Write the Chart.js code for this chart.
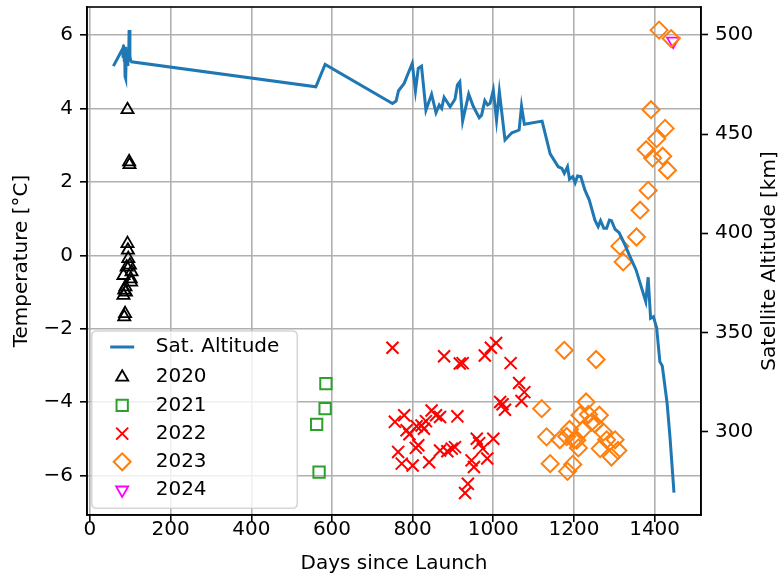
<!DOCTYPE html>
<html><head><meta charset="utf-8">
<script src="https://cdn.jsdelivr.net/npm/chart.js@4/dist/chart.umd.min.js"></script>
<style>html,body{margin:0;padding:0;background:#fff}canvas{display:block}</style>
</head><body>
<canvas id="c" width="782" height="579"></canvas>
<script>
// ---------- data ----------
const altDays = [58,81,82,83,85,86,87,88,89,90,92,94,96,97,99,101,103,560,583,750,759,765,779,789,799,807,814,822,833,847,858,866,872,878,893,905,911,917,924,939,950,965,971,979,986,992,1000,1008,1015,1029,1046,1064,1070,1077,1121,1141,1161,1170,1176,1184,1189,1197,1203,1209,1217,1227,1238,1252,1260,1266,1274,1281,1288,1293,1302,1312,1324,1339,1354,1368,1378,1384,1390,1397,1405,1413,1419,1431,1438,1448];
const altKm = [484.2,493,489,495,487,492,479,494,478,490,485,493,488,502.4,489,487,486.4,473.8,485.1,465.4,466.6,471.8,475.5,480.6,485.6,471.8,483.1,484.2,462.0,470.0,460.7,464.6,462.9,468.5,463.7,467.5,474.7,476.3,456.5,470.1,464.1,458.2,459.5,466.8,464.6,465.4,472.1,457.0,471.3,447.0,450.6,452.0,464.1,454.9,456.5,440.0,433.5,432.7,430.2,433.5,427.2,428.5,425.4,428.8,428.5,421.8,416.7,406.6,403.3,406.3,402.5,402.5,406.6,406.3,402.0,400.3,395.2,388.2,381.5,372.2,365.5,377.8,357.1,357.9,352.4,335.3,333.1,314.3,297.5,269.3];

const days2020 = [93,97,98,93,94,95,99,91,103,83,101,102,88,85,89,83,87,85];
const temp2020 = [3.97,2.55,2.47,0.32,0.14,-0.09,-0.27,-0.32,-0.45,-0.55,-0.64,-0.73,-0.86,-0.95,-1.0,-1.09,-1.59,-1.68];

const days2021 = [585,583,562,568];
const temp2021 = [-3.50,-4.18,-4.61,-5.91];

const days2022 = [750,878,917,924,979,994,1007,1043,1064,1077,1070,1017,1023,1029,756,779,785,792,814,808,810,822,828,833,847,858,868,911,764,773,800,841,868,886,897,905,959,965,974,1000,946,952,985,937,930];
const temp2022 = [-2.52,-2.75,-2.95,-2.94,-2.73,-2.52,-2.39,-2.94,-3.48,-3.73,-3.97,-4.0,-4.06,-4.21,-4.54,-4.36,-4.77,-4.88,-5.18,-5.25,-4.66,-4.64,-4.73,-4.52,-4.23,-4.36,-4.41,-4.39,-5.36,-5.68,-5.73,-5.64,-5.32,-5.34,-5.27,-5.23,-5.0,-5.12,-5.27,-5.0,-5.59,-5.77,-5.54,-6.23,-6.48];

const days2023 = [1176,1255,1120,1230,1215,1236,1263,1244,1223,1189,1132,1165,1182,1200,1211,1273,1281,1302,1265,1309,1293,1141,1197,1184,1252,1207,1411,1441,1391,1426,1405,1379,1395,1420,1432,1384,1364,1355,1314,1322];
const temp2023 = [-2.59,-2.84,-4.18,-4.0,-4.36,-4.34,-4.36,-4.55,-4.75,-4.75,-4.95,-5.03,-4.94,-5.04,-5.25,-4.82,-5.03,-5.03,-5.27,-5.32,-5.5,-5.68,-5.7,-5.89,-4.6,-5.04,6.14,5.91,3.97,3.46,3.18,2.88,2.65,2.7,2.32,1.77,1.23,0.5,0.25,-0.18];

const days2024 = [1446];
const temp2024 = [5.84];

const xTicks = [0,200,400,600,800,1000,1200,1400];
const tempTicks = [-6,-4,-2,0,2,4,6];
const altTicks = [300,350,400,450,500];

// ---------- chart ----------
const F = "'DejaVu Sans', 'Liberation Sans', sans-serif";
const pts = (xs, ys) => xs.map((x, i) => ({x, y: ys[i]}));

function scatterSet(label, xs, ys, style, color, r, rot, bw) {
  return {
    label, data: pts(xs, ys), yAxisID: 'y', order: 1,
    pointStyle: style, pointRadius: r, pointHoverRadius: r, pointRotation: rot,
    borderColor: color, backgroundColor: 'rgba(0,0,0,0)', pointBorderWidth: bw, showLine: false
  };
}

const datasets = [
  {label: 'Sat. Altitude', data: pts(altDays, altKm), yAxisID: 'yR', order: 0, showLine: true,
   borderColor: '#1f77b4', backgroundColor: '#1f77b4', borderWidth: 3, pointRadius: 0, pointHoverRadius: 0, tension: 0, fill: false},
  scatterSet('2020', days2020, temp2020, 'triangle', '#000000', 7, 0, 1.8),
  scatterSet('2021', days2021, temp2021, 'rect', '#2ca02c', 8, 0, 2),
  scatterSet('2022', days2022, temp2022, 'crossRot', '#ff0000', 8.5, 0, 2),
  scatterSet('2023', days2023, temp2023, 'rectRot', '#ff7f0e', 8.5, 0, 2),
  scatterSet('2024', days2024, temp2024, 'triangle', '#ff00ff', 7, 180, 1.8)
];

function marker(ctx, style, x, y, r, rotDeg) {
  const rad0 = rotDeg * Math.PI / 180;
  ctx.beginPath();
  if (style === 'triangle') {
    let rad = rad0;
    ctx.moveTo(x + Math.sin(rad) * r, y - Math.cos(rad) * r);
    rad += 2 * Math.PI / 3;
    ctx.lineTo(x + Math.sin(rad) * r, y - Math.cos(rad) * r);
    rad += 2 * Math.PI / 3;
    ctx.lineTo(x + Math.sin(rad) * r, y - Math.cos(rad) * r);
    ctx.closePath();
  } else if (style === 'rect') {
    const s = Math.SQRT1_2 * r;
    ctx.rect(x - s, y - s, 2 * s, 2 * s);
  } else if (style === 'rectRot') {
    ctx.moveTo(x - r, y); ctx.lineTo(x, y - r); ctx.lineTo(x + r, y); ctx.lineTo(x, y + r); ctx.closePath();
  } else if (style === 'crossRot') {
    const s = Math.SQRT1_2 * r;
    ctx.moveTo(x - s, y - s); ctx.lineTo(x + s, y + s);
    ctx.moveTo(x - s, y + s); ctx.lineTo(x + s, y - s);
  }
  ctx.stroke();
}

const extras = {
  id: 'extras',
  afterDraw(chart) {
    const ctx = chart.ctx, ca = chart.chartArea;
    ctx.save();
    // spines
    ctx.strokeStyle = '#000'; ctx.lineWidth = 1.6;
    ctx.strokeRect(ca.left, ca.top, ca.right - ca.left, ca.bottom - ca.top);
    // right axis title
    ctx.fillStyle = '#000';
    ctx.font = "20px " + F;
    ctx.textAlign = 'center'; ctx.textBaseline = 'middle';
    ctx.save();
    ctx.translate(770, (ca.top + ca.bottom) / 2);
    ctx.rotate(-Math.PI / 2);
    ctx.fillText('Satellite Altitude [km]', 0, 0);
    ctx.restore();
    // legend
    const lx = ca.left + 4.7, ly = ca.top + 324, lw = 205.6, lh = 177.3, rr = 5;
    ctx.beginPath();
    ctx.moveTo(lx + rr, ly); ctx.lineTo(lx + lw - rr, ly); ctx.quadraticCurveTo(lx + lw, ly, lx + lw, ly + rr);
    ctx.lineTo(lx + lw, ly + lh - rr); ctx.quadraticCurveTo(lx + lw, ly + lh, lx + lw - rr, ly + lh);
    ctx.lineTo(lx + rr, ly + lh); ctx.quadraticCurveTo(lx, ly + lh, lx, ly + lh - rr);
    ctx.lineTo(lx, ly + rr); ctx.quadraticCurveTo(lx, ly, lx + rr, ly);
    ctx.closePath();
    ctx.fillStyle = 'rgba(255,255,255,0.8)'; ctx.fill();
    ctx.strokeStyle = 'rgba(204,204,204,0.8)'; ctx.lineWidth = 1.6; ctx.stroke();
    const mx = lx + 30.5, tx = lx + 64;
    chart.data.datasets.forEach((d, i) => {
      const y = (i === 0) ? ly + 16 : ly + 18 + 28.2 * i;
      ctx.strokeStyle = d.borderColor;
      if (d.showLine) {
        ctx.lineWidth = d.borderWidth;
        ctx.beginPath(); ctx.moveTo(mx - 12, y); ctx.lineTo(mx + 12, y); ctx.stroke();
      } else {
        ctx.lineWidth = d.pointBorderWidth;
        marker(ctx, d.pointStyle, mx, y, d.pointRadius, d.pointRotation);
      }
      ctx.fillStyle = '#000';
      ctx.textAlign = 'left'; ctx.textBaseline = 'middle';
      ctx.fillText(d.label, tx, y);
    });
    ctx.restore();
  }
};

const tickFont = {family: F, size: 20};
const minusFmt = v => (v < 0 ? '\u2212' + Math.abs(v) : String(v));

new Chart(document.getElementById('c'), {
  type: 'scatter',
  data: {datasets},
  options: {
    responsive: false, animation: false, devicePixelRatio: 1,
    layout: {autoPadding: false, padding: {top: 7, left: 0, right: 0, bottom: 0}},
    plugins: {legend: {display: false}, tooltip: {enabled: false}},
    scales: {
      x: {
        type: 'linear', position: 'bottom', min: -7.4, max: 1515,
        afterBuildTicks: s => { s.ticks = xTicks.map(v => ({value: v})); },
        afterFit: s => { s.height = 64; s.paddingLeft = 0; s.paddingRight = 0; },
        grid: {color: '#b0b0b0', lineWidth: 1.6, tickColor: '#000', tickLength: 7, tickWidth: 1.6},
        border: {display: true, color: '#000', width: 1.6},
        ticks: {color: '#000', font: tickFont, padding: -4, maxRotation: 0, autoSkip: false, callback: v => String(v)},
        title: {display: true, text: 'Days since Launch', color: '#000', font: tickFont, padding: {top: 0, bottom: 3}}
      },
      y: {
        type: 'linear', position: 'left', min: -7.08, max: 6.77,
        afterBuildTicks: s => { s.ticks = tempTicks.map(v => ({value: v})); },
        afterFit: s => { s.width = 87; s.paddingTop = 0; s.paddingBottom = 0; },
        grid: {color: '#b0b0b0', lineWidth: 1.6, tickColor: '#000', tickLength: 7, tickWidth: 1.6},
        border: {display: true, color: '#000', width: 1.6},
        ticks: {color: '#000', font: tickFont, padding: 7, callback: minusFmt, autoSkip: false},
        title: {display: true, text: 'Temperature [°C]', color: '#000', font: tickFont, padding: {top: 10, bottom: 0}}
      },
      yR: {
        type: 'linear', position: 'right', min: 258, max: 514,
        afterBuildTicks: s => { s.ticks = altTicks.map(v => ({value: v})); },
        afterFit: s => { s.width = 81; s.paddingTop = 0; s.paddingBottom = 0; },
        grid: {drawOnChartArea: false, tickColor: '#000', tickLength: 7, tickWidth: 1.6},
        border: {display: true, color: '#000', width: 1.6},
        ticks: {color: '#000', font: tickFont, padding: 7, autoSkip: false},
        title: {display: false}
      }
    }
  },
  plugins: [extras]
});
</script>
</body></html>
